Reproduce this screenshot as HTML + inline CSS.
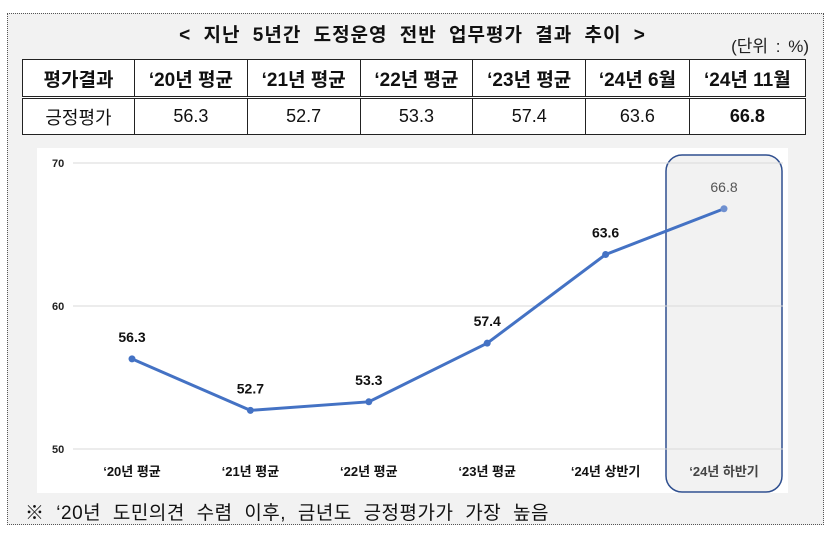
<!DOCTYPE html>
<html><head><meta charset="utf-8"><style>
body{margin:0;width:825px;height:537px;background:#fff;font-family:"Liberation Sans","Noto Sans CJK KR",sans-serif;position:relative;overflow:hidden}
#frame{position:absolute;left:7px;top:13px;width:815px;height:510px;border:1px dotted #555;background:#f2f2f2}
#title{position:absolute;left:0;width:825px;top:20px;text-align:center;font-size:19px;font-weight:bold;color:#111;word-spacing:6px;letter-spacing:1px}
#unit{position:absolute;right:16px;top:32px;font-size:17px;color:#222;word-spacing:3px}
table{position:absolute;left:22px;top:59px;width:784px;border-collapse:collapse;background:#fff}
td{border:1px solid #222;text-align:center;font-size:18px;color:#111;padding:0}
tr.h td{height:36px;font-weight:bold;border-bottom:3px double #222;font-size:19px}
tr.d td{height:35px}
#note{position:absolute;left:25px;top:498px;font-size:19px;color:#111;word-spacing:6px;letter-spacing:0.5px}
svg{position:absolute;left:0;top:0}
</style></head><body>
<div id="frame"></div>
<div id="title">&lt; 지난 5년간 도정운영 전반 업무평가 결과 추이 &gt;</div>
<div id="unit">(단위 : %)</div>
<table>
<tr class="h"><td style="width:111px">평가결과</td><td>‘20년 평균</td><td>‘21년 평균</td><td>‘22년 평균</td><td>‘23년 평균</td><td>‘24년 6월</td><td>‘24년 11월</td></tr>
<tr class="d"><td>긍정평가</td><td>56.3</td><td>52.7</td><td>53.3</td><td>57.4</td><td>63.6</td><td style="font-weight:bold">66.8</td></tr>
</table>
<svg width="825" height="537">
<rect x="37" y="148" width="751" height="345" fill="#fff"/>
<g id="g"></g>
</svg>
<div id="note">※ ‘20년 도민의견 수렴 이후, 금년도 긍정평가가 가장 높음</div>
<script>
const categories=["‘20년 평균","‘21년 평균","‘22년 평균","‘23년 평균","‘24년 상반기","‘24년 하반기"];
const values=[56.3,52.7,53.3,57.4,63.6,66.8];
const ticks=[50,60,70];
const x=i=>132+i*118.4;
const y=v=>449-(v-50)*14.3;
const g=document.getElementById('g');
const NS='http://www.w3.org/2000/svg';
function mk(t,a){const e=document.createElementNS(NS,t);for(const k in a)e.setAttribute(k,a[k]);g.appendChild(e);return e;}
const hb=mk('rect',{x:x(5)-58,y:155,width:116,height:337,rx:16,fill:'#f2f2f2',stroke:'#2f4f8f','stroke-width':1.5});


ticks.forEach(t=>{
const l=mk('line',{x1:73,x2:783,y1:y(t),y2:y(t),stroke:'#d9d9d9','stroke-width':1});


const tx=mk('text',{x:52,y:y(t)+4,'font-size':11,'font-weight':'bold',fill:'#222'});tx.textContent=t;


});
let d='';values.forEach((v,i)=>{d+=(i?'L':'M')+x(i)+','+y(v);});
const p=mk('path',{d:d,fill:'none',stroke:'#4472c4','stroke-width':3,'stroke-linejoin':'round'});


values.forEach((v,i)=>{
const c=mk('circle',{cx:x(i),cy:y(v),r:3.5,fill:i==5?'#6f90d0':'#4472c4'});


const t=mk('text',{x:x(i),y:y(v)-17,'text-anchor':'middle','font-size':14,'font-weight':i==5?'normal':'bold',fill:i==5?'#555':'#111'});t.textContent=v.toFixed(1);


const cl=mk('text',{x:x(i),y:476,'text-anchor':'middle','font-size':13,'font-weight':'bold',fill:i==5?'#444':'#111'});cl.textContent=categories[i];


});
</script>
</body></html>
